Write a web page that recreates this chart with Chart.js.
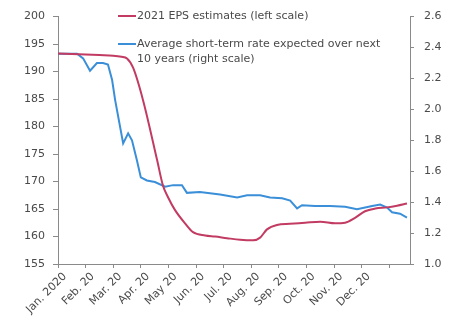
<!DOCTYPE html>
<html>
<head>
<meta charset="utf-8">
<script src="https://cdn.jsdelivr.net/npm/chart.js@4/dist/chart.umd.min.js"></script>
<style>
  html, body { margin: 0; padding: 0; background: #fff; }
  #wrap { width: 454px; height: 316px; }
</style>
</head>
<body>
<div id="wrap"><canvas id="eps-chart" width="454" height="316"></canvas></div>
<script>
// months since Jan 1 2020
const monthLabels = ["Jan. 2020", "Feb. 20", "Mar. 20", "Apr. 20", "May 20", "Jun. 20",
  "Jul. 20", "Aug. 20", "Sep. 20", "Oct. 20", "Nov. 20", "Dec. 20"];
const monthTicks = [0, 1, 2, 3, 4, 5, 6, 7, 8, 9, 10, 11, 12];
const leftTicks = [155, 160, 165, 170, 175, 180, 185, 190, 195, 200];
const rightTicks = [1.0, 1.2, 1.4, 1.6, 1.8, 2.0, 2.2, 2.4, 2.6];

const epsMonths = [0, 0.5, 1, 1.5, 2, 2.3, 2.5, 2.72, 3.08, 3.59, 3.8, 3.99, 4.24, 4.6, 4.89,
  5.33, 5.69, 6.12, 6.6, 7.07, 7.32, 7.57, 7.93, 8.4, 8.95, 9.5, 10.04, 10.4, 10.76, 11.12,
  11.5, 11.92, 12.28, 12.64];
const epsValues = [193.3, 193.2, 193.1, 193.0, 192.9, 192.7, 192.4, 190.7, 184.8, 173.9, 169.3,
  167.1, 164.8, 162.4, 160.8, 160.2, 160.0, 159.7, 159.4, 159.3, 159.8, 161.3, 162.1, 162.3,
  162.5, 162.7, 162.4, 162.5, 163.4, 164.6, 165.1, 165.3, 165.6, 166.0];

const rateMonths = [0, 0.69, 0.91, 1.16, 1.41, 1.63, 1.81, 1.96, 2.07, 2.36, 2.54, 2.68, 2.86,
  3.0, 3.22, 3.51, 3.88, 4.17, 4.49, 4.67, 5.14, 5.87, 6.49, 6.85, 7.32, 7.68, 8.12, 8.41,
  8.66, 8.84, 9.31, 9.86, 10.4, 10.83, 11.38, 11.67, 11.92, 12.1, 12.39, 12.64];
const rateValues = [2.36, 2.36, 2.33, 2.25, 2.30, 2.30, 2.29, 2.19, 2.06, 1.78, 1.845, 1.80,
  1.67, 1.56, 1.54, 1.53, 1.50, 1.51, 1.51, 1.46, 1.465, 1.45, 1.43, 1.445, 1.445, 1.43,
  1.425, 1.41, 1.36, 1.38, 1.375, 1.375, 1.37, 1.355, 1.375, 1.385, 1.365, 1.335, 1.325, 1.30];

const epsColor = "#c23b62";
const rateColor = "#3a8fd8";
const textColor = "#4a4a4a";
const axisColor = "#8a8a8a";
const fontFamily = "'DejaVu Sans', sans-serif";

const legendPlugin = {
  id: "insideLegend",
  afterDraw(chart) {
    const ctx = chart.ctx;
    ctx.save();
    ctx.font = "11px " + fontFamily;
    ctx.fillStyle = textColor;
    ctx.textBaseline = "middle";
    ctx.lineWidth = 2;
    const items = [
      { color: epsColor, y: 16, lines: ["2021 EPS estimates (left scale)"] },
      { color: rateColor, y: 44, lines: ["Average short-term rate expected over next", "10 years (right scale)"] },
    ];
    items.forEach(function (item) {
      ctx.strokeStyle = item.color;
      ctx.beginPath();
      ctx.moveTo(118, item.y);
      ctx.lineTo(136, item.y);
      ctx.stroke();
      item.lines.forEach(function (line, i) {
        ctx.fillText(line, 137, item.y + i * 15);
      });
    });
    ctx.restore();
  },
};

new Chart("eps-chart", {
  type: "line",
  data: {
    datasets: [
      {
        label: "2021 EPS estimates (left scale)",
        data: epsMonths.map((m, i) => ({ x: m, y: epsValues[i] })),
        borderColor: epsColor,
        borderWidth: 2,
        pointRadius: 0,
        cubicInterpolationMode: "monotone",
        yAxisID: "y",
      },
      {
        label: "Average short-term rate expected over next 10 years (right scale)",
        data: rateMonths.map((m, i) => ({ x: m, y: rateValues[i] })),
        borderColor: rateColor,
        borderWidth: 2,
        pointRadius: 0,
        tension: 0,
        yAxisID: "y1",
      },
    ],
  },
  options: {
    responsive: false,
    animation: false,
    layout: { padding: { top: 16, bottom: 0, left: 0, right: 0 } },
    plugins: { legend: { display: false }, tooltip: { enabled: false } },
    scales: {
      x: {
        type: "linear",
        min: 0,
        max: 12.75,
        afterBuildTicks: (s) => { s.ticks = monthTicks.map((v) => ({ value: v })); },
        afterFit: (s) => { s.height = 52; },
        ticks: {
          autoSkip: false,
          minRotation: 45,
          maxRotation: 45,
          labelOffset: 7,
          padding: 2,
          color: textColor,
          font: { family: fontFamily, size: 11 },
          callback: (v) => monthLabels[v] || "",
        },
        grid: { drawOnChartArea: false, color: axisColor, tickLength: 4 },
        border: { color: axisColor },
      },
      y: {
        position: "left",
        min: 155,
        max: 200,
        afterBuildTicks: (s) => { s.ticks = leftTicks.map((v) => ({ value: v })); },
        afterFit: (s) => { s.width = 58; },
        ticks: { color: textColor, padding: 8, font: { family: fontFamily, size: 11 } },
        grid: { drawOnChartArea: false, color: axisColor, tickLength: 5 },
        border: { color: axisColor },
      },
      y1: {
        position: "right",
        min: 1.0,
        max: 2.6,
        afterBuildTicks: (s) => { s.ticks = rightTicks.map((v) => ({ value: v })); },
        afterFit: (s) => { s.width = 44; },
        ticks: {
          color: textColor,
          padding: 10,
          font: { family: fontFamily, size: 11 },
          callback: (v) => Number(v).toFixed(1),
        },
        grid: { drawOnChartArea: false, color: axisColor, tickLength: 4 },
        border: { color: axisColor },
      },
    },
  },
  plugins: [legendPlugin],
});
</script>
</body>
</html>
